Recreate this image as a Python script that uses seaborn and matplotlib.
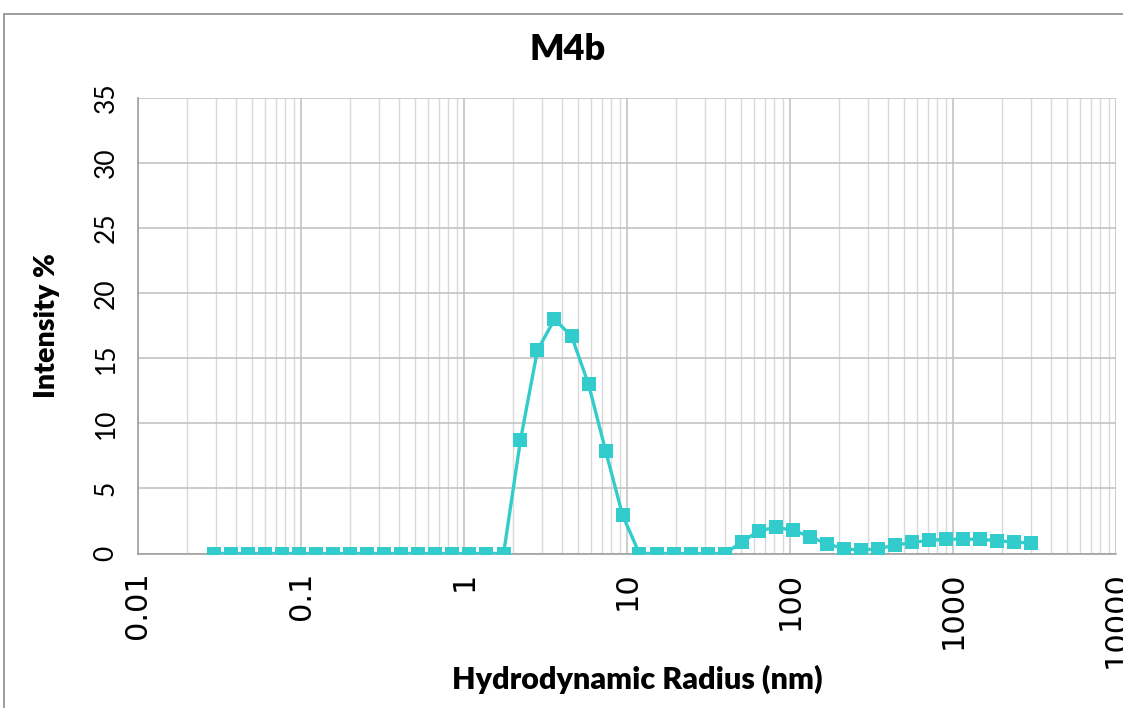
import matplotlib
matplotlib.use("Agg")
import matplotlib.pyplot as plt
import matplotlib.patches as patches
from matplotlib.ticker import LogLocator, NullFormatter, FixedLocator, FixedFormatter
import seaborn as sns
import pandas as pd

# ---- data ----
radius_nm = [0.0294, 0.0374, 0.0475, 0.0604, 0.0768, 0.0977, 0.124, 0.158, 0.201,
             0.255, 0.325, 0.413, 0.525, 0.668, 0.849, 1.08, 1.37, 1.75, 2.22,
             2.82, 3.59, 4.57, 5.81, 7.39, 9.39, 11.9, 15.2, 19.3, 24.6, 31.2,
             39.7, 50.5, 64.2, 81.7, 104, 132, 168, 214, 272, 345, 439, 558,
             710, 903, 1148, 1460, 1857, 2362, 3003]
intensity = [0, 0, 0, 0, 0, 0, 0, 0, 0, 0, 0, 0, 0, 0, 0, 0, 0, 0,
             8.7, 15.6, 18.0, 16.7, 13.0, 7.9, 2.95,
             0, 0, 0, 0, 0, 0,
             0.85, 1.75, 2.0, 1.8, 1.3, 0.75, 0.37, 0.25, 0.37, 0.62, 0.85,
             1.0, 1.1, 1.1, 1.1, 0.98, 0.88, 0.8]
x_ticks = [0.01, 0.1, 1, 10, 100, 1000, 10000]
x_tick_labels = ["0.01", "0.1", "1", "10", "100", "1000", "10000"]
y_ticks = [0, 5, 10, 15, 20, 25, 30, 35]
title = "M4b"
x_label = "Hydrodynamic Radius (nm)"
y_label = "Intensity %"

df = pd.DataFrame({"radius": radius_nm, "intensity": intensity})

sns.set_style("white")
plt.rcParams["font.family"] = ["Lato", "DejaVu Sans"]

W, H = 1123, 708
fig = plt.figure(figsize=(W / 100, H / 100), dpi=100)
ax = fig.add_axes([138 / W, 1 - 553.5 / H, (1116 - 138) / W, (553.5 - 98) / H])

# outer chart-area border
fig.patches.append(patches.Rectangle((4 / W, -0.05), 1.2, 1 - 13.5 / H + 0.05,
                                     transform=fig.transFigure, fill=False,
                                     edgecolor="#8c8c8c", linewidth=1.2, zorder=0))

sns.lineplot(data=df, x="radius", y="intensity", ax=ax, color="#33CCCC",
             linewidth=2.4, marker="s", markersize=9.5, markeredgewidth=0,
             markerfacecolor="#33CCCC", zorder=5)

ax.set_xscale("log")
ax.set_xlim(0.01, 10000)
ax.set_ylim(0, 35)

ax.xaxis.set_major_locator(FixedLocator(x_ticks))
ax.xaxis.set_major_formatter(FixedFormatter(x_tick_labels))
ax.xaxis.set_minor_locator(LogLocator(base=10, subs=range(2, 10), numticks=50))
ax.xaxis.set_minor_formatter(NullFormatter())
ax.set_yticks(y_ticks)

ax.grid(True, which="major", axis="both", color="#bfbfbf", linewidth=1.1)
ax.grid(True, which="minor", axis="x", color="#d9d9d9", linewidth=1.0)
ax.set_axisbelow(True)

for s in ["top", "right"]:
    ax.spines[s].set_visible(False)
for s in ["left", "bottom"]:
    ax.spines[s].set_color("#9a9a9a")
    ax.spines[s].set_linewidth(1.1)

ax.tick_params(axis="both", which="major", direction="inout", length=16,
               width=1.0, color="#9a9a9a")
ax.tick_params(axis="x", which="minor", length=0)
ax.tick_params(axis="x", which="major", direction="out", length=9)

for lbl in ax.get_xticklabels():
    lbl.set_rotation(90)
    lbl.set_fontsize(22)
    lbl.set_family(["DejaVu Sans"])
    lbl.set_color("#000000")
for lbl in ax.get_yticklabels():
    lbl.set_rotation(90)
    lbl.set_fontsize(19)
    lbl.set_va("center")
    lbl.set_color("#000000")
ax.tick_params(axis="x", pad=4)
ax.tick_params(axis="y", pad=6)

ax.set_xlabel("")
ax.set_ylabel("")
fig.text(637 / W, 1 - 679 / H, x_label, ha="center", va="center",
         fontsize=22, fontweight="heavy", color="#000000")
fig.text(47 / W, 1 - 326 / H, y_label, ha="center", va="center", rotation=90,
         fontsize=20.5, fontweight="heavy", color="#000000")
fig.text(568 / W, 1 - 50 / H, title, ha="center", va="center",
         fontsize=26, fontweight="heavy", color="#000000")

fig.savefig("out.png", dpi=100)
